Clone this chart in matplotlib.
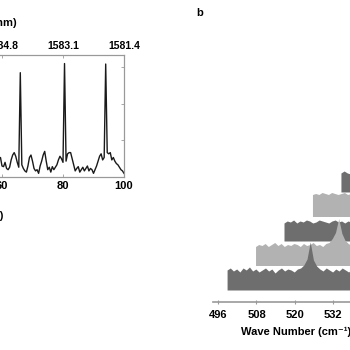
import numpy as np
import matplotlib
matplotlib.use('Agg')
import matplotlib.pyplot as plt

plt.rcParams['font.family'] = ['Liberation Sans', 'DejaVu Sans']
plt.rcParams['font.weight'] = 'bold'

# panel a: intensity trace along position, with wavelength on the top axis
position = np.arange(59, 100.5, 0.5)
intensity = [0.15, 0.16, 0.09, 0.085, 0.12, 0.07, 0.06, 0.08, 0.14, 0.18,
             0.20, 0.17, 0.12, 0.08, 0.855, 0.10, 0.07, 0.05, 0.04, 0.09,
             0.16, 0.18, 0.13, 0.07, 0.05, 0.06, 0.03, 0.09, 0.13, 0.18,
             0.21, 0.13, 0.06, 0.08, 0.04, 0.085, 0.06, 0.08, 0.10, 0.14,
             0.17, 0.15, 0.12, 0.93, 0.13, 0.19, 0.20, 0.20, 0.15, 0.10,
             0.05, 0.07, 0.085, 0.04, 0.06, 0.08, 0.05, 0.07, 0.09, 0.05,
             0.07, 0.06, 0.03, 0.06, 0.09, 0.13, 0.17, 0.19, 0.14, 0.16,
             0.926, 0.20, 0.19, 0.20, 0.14, 0.16, 0.13, 0.11, 0.10, 0.08,
             0.06, 0.05, 0.03]
pos_ticks = [0, 20, 40, 60, 80, 100]
wl_ticks = [60, 80, 100]
wl_labels = ['1584.8', '1583.1', '1581.4']

# panel b: stacked Raman spectra (height above each baseline)
wavenumber = np.arange(498.8, 538.0, 1.0)
spectra = [
    [20, 22, 19, 21, 18, 22, 20, 23, 19, 21, 18, 20, 22, 19, 21, 17, 20, 22, 19, 21,
     20, 18, 21, 22, 25, 31, 48, 30, 24, 21, 19, 22, 20, 18, 21, 19, 22, 20, 18, 21],
    [19, 21, 20, 22, 19, 21, 23, 20, 22, 19, 21, 20, 22, 21, 19, 22, 20, 21, 23, 20,
     21, 19, 22, 23, 27, 33, 47, 32, 25, 22, 20, 21, 19, 22, 20, 21, 19, 20, 22, 20],
    [18, 20, 19, 21, 18, 20, 19, 21, 20, 18, 19, 21, 20, 19, 18, 20, 21, 19, 20, 18,
     20, 19, 21, 22, 26, 32, 46, 31, 24, 21, 19, 20, 18, 21, 19, 20, 18, 19, 21, 19],
    [22, 23, 22, 24, 23, 22, 24, 23, 22, 23, 24, 22, 23, 22, 24, 23, 22, 23, 24, 22,
     23, 22, 24, 25, 28, 34, 48, 33, 26, 24, 22, 23, 22, 24, 23, 22, 24, 22, 23, 22],
    [19, 21, 19, 18, 19, 20, 19, 18, 20, 19, 18, 19, 20, 19, 18, 20, 19, 18, 19, 20,
     19, 18, 20, 21, 25, 31, 45, 30, 23, 20, 19, 18, 20, 19, 18, 19, 20, 19, 18, 19],
]
layer_colors = ['#6e6e6e', '#b2b2b2', '#6e6e6e', '#b2b2b2', '#6e6e6e']
wn_ticks = [496, 508, 520, 532, 544]

W = H = 350.0


def px_rect(left, top, right, bottom):
    return [left / W, 1 - bottom / H, (right - left) / W, (bottom - top) / H]


fig = plt.figure(figsize=(3.5, 3.5), dpi=100)

ax1 = fig.add_axes(px_rect(-181, 55, 124, 177))
ax1.plot(position, intensity, color='#1a1a1a', lw=1.0)
ax1.set_xlim(0, 100)
ax1.set_ylim(0, 1)
ax1.set_xticks(pos_ticks)
ax1.set_yticks([0, 0.3, 0.6, 0.9])
ax1.tick_params(direction='in', length=2.5, width=0.6, color='#999999',
                labelsize=8, pad=3, right=True)
for s in ax1.spines.values():
    s.set_color('#999999')
    s.set_linewidth(0.8)
ax1.set_xlabel('Length (\u03bcm)', fontsize=8, fontweight='bold', labelpad=14)

ax1t = ax1.twiny()
ax1t.set_xlim(0, 100)
ax1t.set_xticks(wl_ticks)
ax1t.set_xticklabels(wl_labels)
ax1t.tick_params(direction='in', length=2.5, width=0.6, color='#999999',
                 labelsize=7.5, pad=3)
for s in ax1t.spines.values():
    s.set_color('#999999')
    s.set_linewidth(0.8)
ax1t.set_xlabel('Wavelength (nm)', fontsize=8, fontweight='bold', labelpad=11)

ax2 = fig.add_axes(px_rect(213, 60, 379, 302))
shift_x = 8.9
shift_y = 24.5
for k in range(len(spectra) - 1, -1, -1):
    base = 12 + shift_y * k
    vals = np.array(spectra[k], dtype=float)
    ax2.fill_between(wavenumber + shift_x * k, base, base + vals,
                     color=layer_colors[k], lw=0)
ax2.set_xlim(494.4, 546.3)
ax2.set_ylim(0, 242)
ax2.set_xticks(wn_ticks)
ax2.set_yticks([])
for name in ['top', 'right', 'left']:
    ax2.spines[name].set_visible(False)
ax2.spines['bottom'].set_color('#999999')
ax2.spines['bottom'].set_linewidth(1.2)
ax2.tick_params(axis='x', direction='inout', length=3, width=0.8,
                color='#999999', labelsize=8, pad=4)
ax2.set_xlabel('Wave Number (cm\u207b\u00b9)', fontsize=8, fontweight='bold',
               labelpad=5)

fig.text(200 / W, 1 - 13 / H, 'b', fontsize=8, fontweight='bold',
         ha='center', va='center')

fig.savefig('out.png', dpi=100)
